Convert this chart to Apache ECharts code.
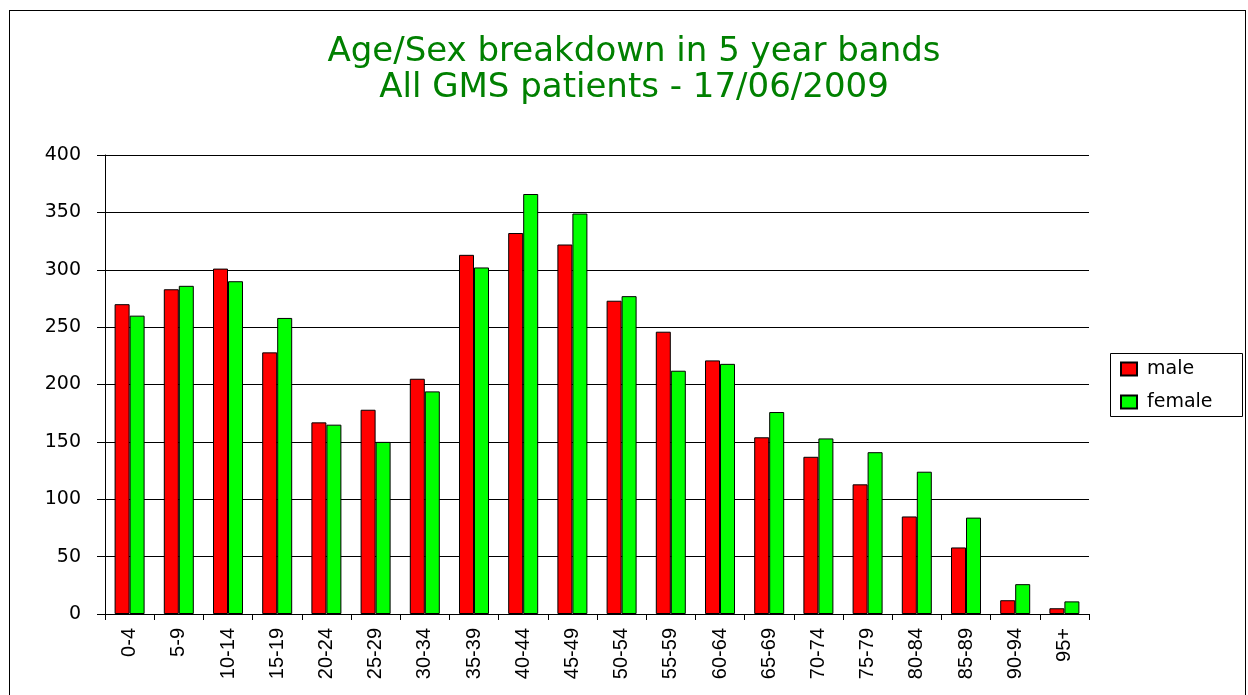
<!DOCTYPE html>
<html><head><meta charset="utf-8">
<script src="https://cdn.jsdelivr.net/npm/echarts@6/dist/echarts.min.js"></script>
<style>
html,body{margin:0;padding:0;background:#fff;}
#frame{position:absolute;left:9px;top:10px;width:1237px;height:700px;border:1px solid #000;box-sizing:border-box;}
#c{position:absolute;left:0;top:0;width:1248px;height:695px;}
</style></head><body>
<div id="frame"></div>
<div id="c"></div>
<script>
const titleLines = ['Age/Sex breakdown in 5 year bands', 'All GMS patients - 17/06/2009'];
const categories = ['0-4','5-9','10-14','15-19','20-24','25-29','30-34','35-39','40-44','45-49','50-54','55-59','60-64','65-69','70-74','75-79','80-84','85-89','90-94','95+'];
const male   = [270,283,301,228,167,178,205,313,332,322,273,246,221,154,137,113,85,58,12,5];
const female = [260,286,290,258,165,150,194,302,366,349,277,212,218,176,153,141,124,84,26,11];
const yMin = 0, yMax = 400, yStep = 50;

const chart = echarts.init(document.getElementById('c'), null, {renderer:'canvas'});
const fontA = 'Liberation Sans, Arial, sans-serif';
const fontW = 'DejaVu Sans, Verdana, sans-serif';
chart.setOption({
  backgroundColor: 'transparent',
  animation: false,
  textStyle: {fontFamily: fontA},
  title: {
    text: titleLines.join('\n'),
    left: 629, top: 29, textAlign: 'center',
    textStyle: {color: '#008000', fontSize: 34, fontWeight: 'normal', lineHeight: 36, fontFamily: fontW}
  },
  legend: {
    orient: 'vertical',
    left: 1120, top: 359,
    padding: 0,
    itemGap: 13,
    itemWidth: 16, itemHeight: 13,
    icon: 'rect',
    textStyle: {fontSize: 19, lineHeight: 20, color: '#000', fontFamily: fontW, padding: [0,0,0,5]},
    data: ['male','female']
  },
  graphic: [{
    type: 'rect', left: 1108, top: 351, silent: true,
    shape: {width: 132, height: 63},
    style: {fill: 'none', stroke: '#000', lineWidth: 1}
  }],
  grid: {left: 105, top: 155, width: 984, height: 459, containLabel: false},
  xAxis: {
    type: 'category',
    data: categories,
    boundaryGap: true,
    axisLine: {lineStyle: {color: '#000', width: 1}},
    axisTick: {show: true, length: 6, lineStyle: {color: '#000'}, alignWithLabel: false},
    axisLabel: {rotate: 90, fontSize: 20, color: '#000', margin: 14, fontFamily: fontA, interval: 0}
  },
  yAxis: {
    type: 'value',
    min: yMin, max: yMax, interval: yStep,
    axisLine: {show: true, lineStyle: {color: '#000', width: 1}},
    axisTick: {show: true, length: 8, lineStyle: {color: '#000'}},
    axisLabel: {fontSize: 19, color: '#000', margin: 24, fontFamily: fontW},
    splitLine: {show: true, lineStyle: {color: '#000', width: 1}}
  },
  series: [
    {name: 'male', type: 'bar', data: male, barWidth: 15, barGap: '0%',
     itemStyle: {color: '#ff0000', borderColor: '#000', borderWidth: 1}},
    {name: 'female', type: 'bar', data: female, barWidth: 15, barGap: '0%',
     itemStyle: {color: '#00ff00', borderColor: '#000', borderWidth: 1}}
  ]
});
</script>
</body></html>
